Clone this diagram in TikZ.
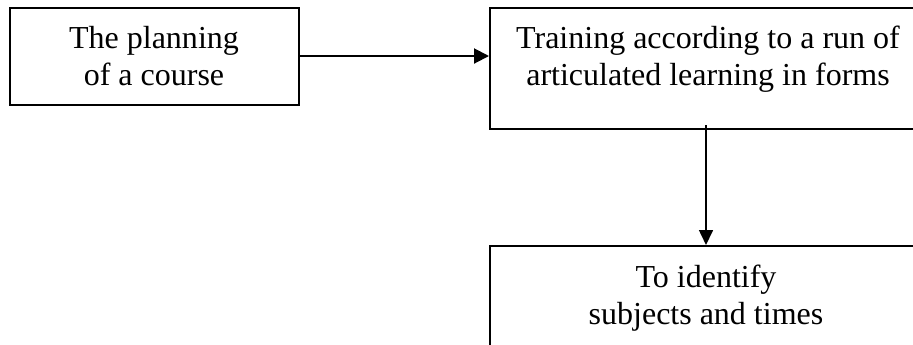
\documentclass[tikz,border=0pt]{standalone}
\usepackage{fontspec}
\setmainfont{Liberation Serif}
\usetikzlibrary{arrows.meta,calc}
\tikzset{
  box/.style={draw=black, line width=1pt, fill=none, inner sep=0pt, anchor=north west},
  txt/.style={inner sep=0pt, anchor=north, align=center, font=\fontsize{16}{18.5}\selectfont},
  conn/.style={line width=1pt, -{Triangle[length=7.5pt,width=7.5pt]}},
  vconn/.style={line width=0.8pt, -{Triangle[length=7.5pt,width=7pt]}}
}
\begin{document}
\begin{tikzpicture}[x=0.5pt,y=-0.5pt]
\clip (0,0) rectangle (913,344);
\fill[white] (0,0) rectangle (913,344);
% boxes
\node[box, minimum width=144.5pt, minimum height=48.5pt] (b1) at (9,7) {};
\node[box, minimum width=219pt, minimum height=60.5pt] (b2) at (489,7) {};
\node[box, minimum width=219pt, minimum height=80pt] (b3) at (489,245) {};
% texts
\node[txt] (t1) at (154,26) {The planning\\of a course};
\node[txt] (t2) at (708,26) {Training according to a run of\\articulated learning in forms};
\node[txt] (t3) at (706,265) {To identify\\ subjects and times};
% connectors
\coordinate (v1) at (706,125);
\draw[conn] (b1.east |- 0,56) -- (b2.west |- 0,56);
\draw[vconn] (v1) -- (v1 |- b3.north);
\end{tikzpicture}
\end{document}
